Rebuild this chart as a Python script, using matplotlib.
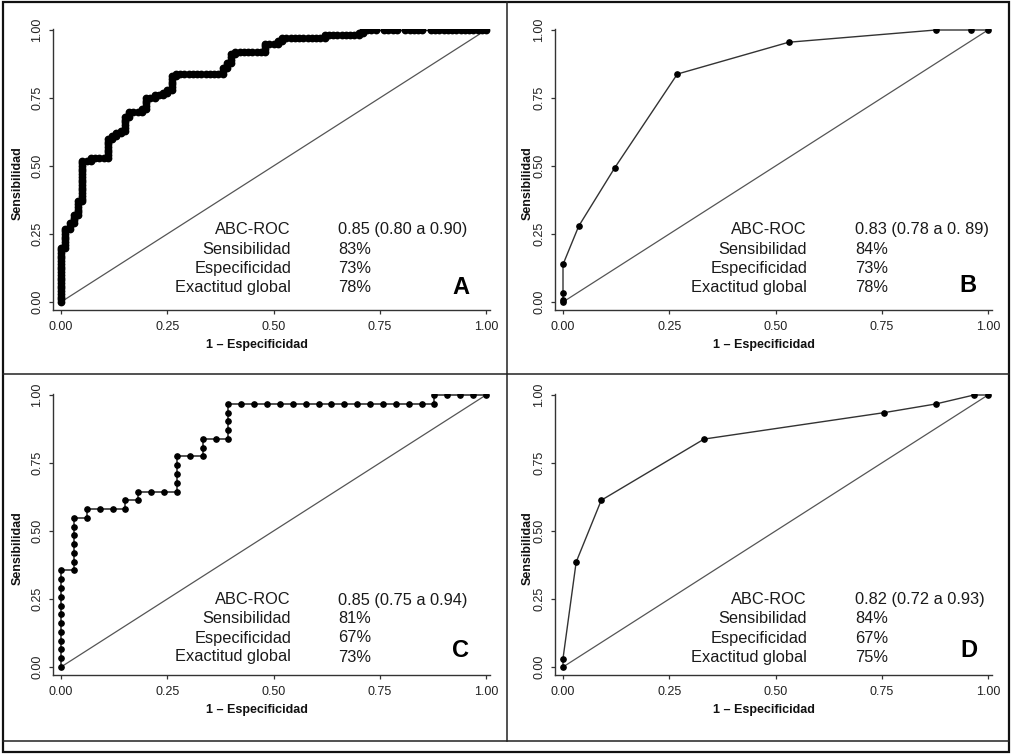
import matplotlib
matplotlib.use("Agg")
import matplotlib.pyplot as plt
from matplotlib.lines import Line2D
from matplotlib.patches import Rectangle

plt.rcParams['font.family'] = ['Liberation Sans', 'DejaVu Sans']

W, H = 1011, 754

# ---------------- data ----------------
tick_vals = [0.0, 0.25, 0.5, 0.75, 1.0]
tick_labels = ["0.00", "0.25", "0.50", "0.75", "1.00"]

# Panel A: step ROC (counts out of 100 negatives / 100 positives)
fp_a = [0, 0, 0, 0, 0, 0, 0, 0, 0, 0, 0, 0, 0, 0, 0, 0, 0, 0, 0, 0, 0,
        1, 1, 1, 1, 1, 1, 1, 1,
        2, 2, 2,
        3, 3, 3, 3,
        4, 4, 4, 4, 4, 4,
        5, 5, 5, 5, 5, 5, 5, 5, 5, 5, 5, 5, 5, 5, 5, 5,
        6,
        7, 7,
        8, 9, 10,
        11, 11, 11, 11, 11, 11, 11, 11,
        12, 12,
        13, 13,
        14, 14,
        15, 15, 15, 15, 15, 15,
        16, 16, 16,
        17, 18,
        19, 19,
        20, 20, 20, 20, 20,
        21,
        22, 22,
        23,
        24, 24,
        25, 25,
        26, 26, 26, 26, 26, 26,
        27, 27,
        28, 29, 30, 31, 32, 33, 34, 35, 36, 37,
        38, 38, 38,
        39, 39, 39,
        40, 40, 40, 40,
        41, 41,
        42, 43, 44, 45, 46, 47,
        48, 48, 48, 48,
        49, 50,
        51, 51,
        52, 52,
        53, 54, 55, 56, 57, 58, 59, 60, 61,
        62, 62,
        63, 64, 65, 66, 67, 68, 69,
        70, 70,
        71, 71,
        72, 73, 74, 76, 77, 78, 79, 81, 82, 83, 84, 85, 87, 88, 89, 90, 91,
        92, 93, 94, 95, 96, 97, 98, 99, 100]
tp_a = [0, 1, 2, 3, 4, 5, 6, 7, 8, 9, 10, 11, 12, 13, 14, 15, 16, 17, 18, 19, 20,
        20, 21, 22, 23, 24, 25, 26, 27,
        27, 28, 29,
        29, 30, 31, 32,
        32, 33, 34, 35, 36, 37,
        37, 38, 39, 40, 41, 42, 43, 44, 45, 46, 47, 48, 49, 50, 51, 52,
        52,
        52, 53,
        53, 53, 53,
        53, 54, 55, 56, 57, 58, 59, 60,
        60, 61,
        61, 62,
        62, 63,
        63, 64, 65, 66, 67, 68,
        68, 69, 70,
        70, 70,
        70, 71,
        71, 72, 73, 74, 75,
        75,
        75, 76,
        76,
        76, 77,
        77, 78,
        78, 79, 80, 81, 82, 83,
        83, 84,
        84, 84, 84, 84, 84, 84, 84, 84, 84, 84,
        84, 85, 86,
        86, 87, 88,
        88, 89, 90, 91,
        91, 92,
        92, 92, 92, 92, 92, 92,
        92, 93, 94, 95,
        95, 95,
        95, 96,
        96, 97,
        97, 97, 97, 97, 97, 97, 97, 97, 97,
        97, 98,
        98, 98, 98, 98, 98, 98, 98,
        98, 99,
        99, 100,
        100, 100, 100, 100, 100, 100, 100, 100, 100, 100, 100, 100, 100, 100,
        100, 100, 100, 100, 100, 100, 100, 100, 100, 100, 100, 100]
n_neg_a, n_pos_a = 100, 100

# Panel B: discrete score ROC
fpr_b = [0.0, 0.0, 0.0, 0.0, 0.037, 0.122, 0.269, 0.531, 0.877, 0.961, 1.0]
tpr_b = [0.0, 0.009, 0.033, 0.138, 0.279, 0.494, 0.838, 0.955, 1.0, 1.0, 1.0]

# Panel C: step ROC (33 negatives / 31 positives)
fp_c = [0, 0, 0, 0, 0, 0, 0, 0, 0, 0, 0, 0,
        1, 1, 1, 1, 1, 1, 1,
        2, 2,
        3, 4, 5, 5,
        6, 6,
        7, 8, 9, 9, 9, 9, 9,
        10, 11, 11, 11,
        12, 13, 13, 13, 13, 13,
        14, 15, 16, 17, 18, 19, 20, 21, 22, 23, 24, 25, 26, 27, 28, 29, 29,
        30, 31, 32, 33]
tp_c = [0, 1, 2, 3, 4, 5, 6, 7, 8, 9, 10, 11,
        11, 12, 13, 14, 15, 16, 17,
        17, 18,
        18, 18, 18, 19,
        19, 20,
        20, 20, 20, 21, 22, 23, 24,
        24, 24, 25, 26,
        26, 26, 27, 28, 29, 30,
        30, 30, 30, 30, 30, 30, 30, 30, 30, 30, 30, 30, 30, 30, 30, 30, 31,
        31, 31, 31, 31]
n_neg_c, n_pos_c = 33, 31

# Panel D: discrete score ROC
fpr_d = [0.0, 0.0, 0.031, 0.09, 0.332, 0.755, 0.877, 0.967, 1.0]
tpr_d = [0.0, 0.031, 0.386, 0.613, 0.838, 0.935, 0.967, 1.0, 1.0]

stat_names = ["ABC-ROC", "Sensibilidad", "Especificidad", "Exactitud global"]
stats_a = ["0.85 (0.80 a 0.90)", "83%", "73%", "78%"]
stats_b = ["0.83 (0.78 a 0. 89)", "84%", "73%", "78%"]
stats_c = ["0.85 (0.75 a 0.94)", "81%", "67%", "73%"]
stats_d = ["0.82 (0.72 a 0.93)", "84%", "67%", "75%"]
panel_letters = ["A", "B", "C", "D"]

# ---------------- figure ----------------
fig = plt.figure(figsize=(W / 100, H / 100), dpi=100)
fig.patch.set_facecolor("white")

XS, YS = 425.0, 272.0   # pixels per data unit
XL, XR = -0.02, 1.01
YB, YT = -0.03, 1.004


def make_ax(x0, y0):
    left = x0 + XS * XL
    right = x0 + XS * XR
    top = y0 - YS * YT
    bottom = y0 - YS * YB
    ax = fig.add_axes([left / W, 1 - bottom / H, (right - left) / W, (bottom - top) / H])
    ax.set_xlim(XL, XR)
    ax.set_ylim(YB, YT)
    for s in ["top", "right"]:
        ax.spines[s].set_visible(False)
    for s in ["left", "bottom"]:
        ax.spines[s].set_color("#333333")
        ax.spines[s].set_linewidth(1.0)
    ax.set_xticks(tick_vals)
    ax.set_xticklabels(tick_labels)
    ax.set_yticks(tick_vals)
    ax.set_yticklabels(tick_labels, rotation=90, va="center")
    ax.tick_params(axis="both", direction="out", length=3.2, width=0.9,
                   color="#333333", labelsize=9, labelcolor="#222222")
    ax.tick_params(axis="x", pad=4.5)
    ax.tick_params(axis="y", pad=3.5)
    ax.patch.set_alpha(0)
    # chance line
    ax.plot([0, 1], [0, 1], color="#555555", lw=0.9, zorder=1)
    return ax


def px_to_data(x0, y0, px, py):
    return (px - x0) / XS, (y0 - py) / YS


panels = [
    dict(x0=61, y0=302, stats=stats_a, lab_r=291, val_l=338, let_x=460.5,
         rows=[234, 253.5, 272.5, 291.5], let_y=293.5),
    dict(x0=563, y0=302, stats=stats_b, lab_r=807, val_l=855, let_x=968,
         rows=[234.3, 254, 272.5, 291.7], let_y=291.7),
    dict(x0=61, y0=667, stats=stats_c, lab_r=291, val_l=338, let_x=460.5,
         rows=[604.5, 623.3, 642.5, 661.5], let_y=657),
    dict(x0=563, y0=667, stats=stats_d, lab_r=807, val_l=855, let_x=968.5,
         rows=[604.3, 623.3, 642.7, 661.7], let_y=656.7),
]

axes = []
for i, p in enumerate(panels):
    ax = make_ax(p["x0"], p["y0"])
    axes.append(ax)
    for name, val, ry in zip(stat_names, p["stats"], p["rows"]):
        xa, ya = px_to_data(p["x0"], p["y0"], p["lab_r"], ry)
        ax.text(xa, ya, name, ha="right", va="baseline", fontsize=11.8, color="#1a1a1a")
        xv, yv = px_to_data(p["x0"], p["y0"], p["val_l"], ry)
        ax.text(xv, yv, val, ha="left", va="baseline", fontsize=11.8, color="#1a1a1a")
    xl_, yl_ = px_to_data(p["x0"], p["y0"], p["let_x"], p["let_y"])
    ax.text(xl_, yl_, panel_letters[i], ha="center", va="baseline", fontsize=17,
            fontweight="bold", color="black")

# curves
axA, axB, axC, axD = axes
axA.plot([v / n_neg_a for v in fp_a], [v / n_pos_a for v in tp_a], color="#222222",
         lw=1.0, marker="o", ms=4.6, mfc="black", mec="black", zorder=3)
axB.plot(fpr_b, tpr_b, color="#333333", lw=1.0, marker="o", ms=3.8,
         mfc="black", mec="black", zorder=3)
axC.plot([v / n_neg_c for v in fp_c], [v / n_pos_c for v in tp_c], color="#222222",
         lw=1.1, marker="o", ms=3.8, mfc="black", mec="black", zorder=3)
axD.plot(fpr_d, tpr_d, color="#333333", lw=1.0, marker="o", ms=3.8,
         mfc="black", mec="black", zorder=3)

# axis titles (figure pixel positions)
for (ylx, yly, xlx, xly) in [(18, 183, 257, 345), (528, 183, 764, 345),
                             (18, 548, 257, 710), (528, 548, 764, 710)]:
    fig.text(ylx / W, 1 - yly / H, "Sensibilidad", rotation=90, ha="center", va="center",
             fontsize=9, fontweight="bold", color="#111111")
    fig.text(xlx / W, 1 - xly / H, "1 – Especificidad", ha="center", va="center",
             fontsize=9, fontweight="bold", color="#111111")

# frame and dividers
fig.add_artist(Rectangle((2.5 / W, 1 - 751.5 / H), 1006 / W, 750 / H, transform=fig.transFigure,
                         fill=False, edgecolor="#111111", lw=1.6))
for (xa, ya, xb, yb) in [(2.5, 741, 1008.5, 741), (2.5, 374, 1008.5, 374), (507, 1.5, 507, 741)]:
    fig.add_artist(Line2D([xa / W, xb / W], [1 - ya / H, 1 - yb / H], transform=fig.transFigure,
                          color="#222222", lw=1.1))

fig.savefig("out.png", dpi=100)
